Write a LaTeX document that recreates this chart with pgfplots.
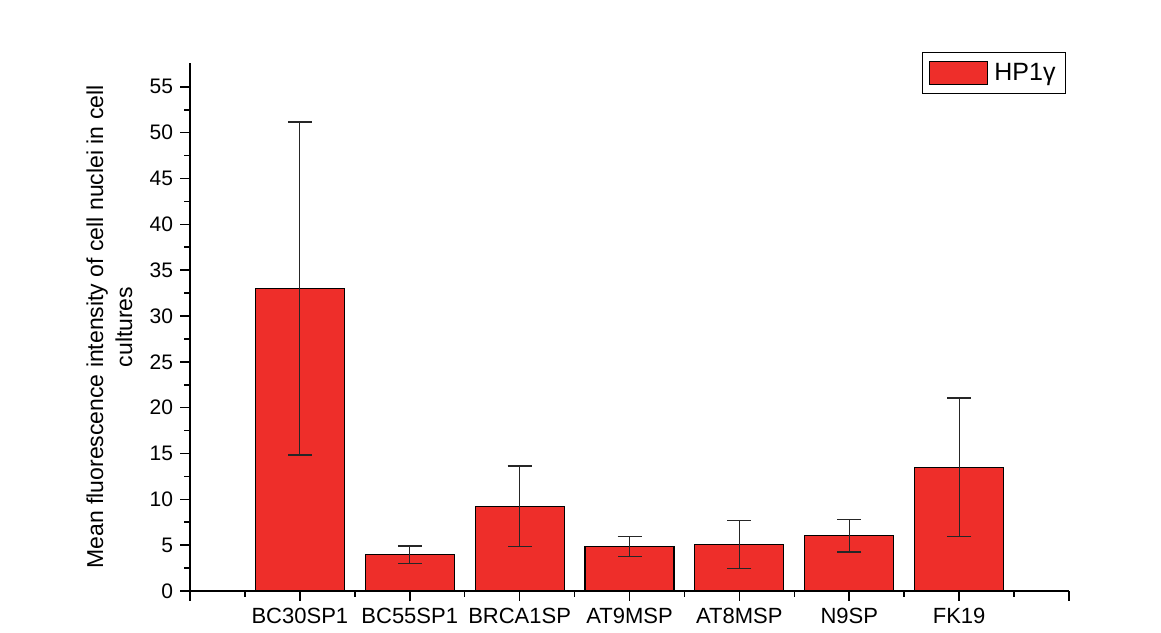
\documentclass[border=0pt]{standalone}
\usepackage{fontspec}
\setmainfont{Liberation Sans}
\usepackage{pgfplots}
\usepackage{pgfplotstable}
\pgfplotsset{compat=1.18}
\definecolor{barred}{RGB}{238,46,42}
\pgfplotstableread{
x y e
0 33.0 18.15
1 3.96 0.97
2 9.26 4.39
3 4.87 1.09
4 5.06 2.60
5 6.03 1.78
6 13.5 7.55
}\datatable
\begin{document}
\begin{tikzpicture}
\begin{axis}[
  scale only axis, width=439.5pt, height=264pt,
  xmin=-1, xmax=7, ymin=0, ymax=57.6,
  axis x line*=bottom, axis y line*=left,
  xtick={-1,0,1,2,3,4,5,6,7},
  xticklabels={,BC30SP1,BC55SP1,BRCA1SP,AT9MSP,AT8MSP,N9SP,FK19,},
  minor x tick num=1,
  ytick={0,5,...,55}, minor y tick num=1,
  tick align=outside,
  major tick length=5pt, minor tick length=3pt,
  every tick/.style={black, line width=0.8pt},
  axis line style={line width=0.9pt},
  /pgf/number format/assume math mode=true,
  yticklabel style={font=\fontsize{10.5}{12}\selectfont},
  xticklabel style={font=\fontsize{11}{13}\selectfont},
  ylabel={Mean fluorescence intensity of cell nuclei in cell\\cultures},
  ylabel style={at={(axis description cs:-0.065,0.5)}, anchor=south, rotate=0, align=center, font=\fontsize{11.5}{14.5}\selectfont, inner sep=0pt},
  legend style={at={(axis description cs:0.9966,1.02)}, anchor=north east, draw=black, line width=0.5pt, font=\fontsize{12.5}{14}\selectfont, inner xsep=3pt, inner ysep=3pt},
  legend cell align=left,
  clip=false,
]
\addplot[ybar, bar width=44.5pt, fill=barred, draw=black, line width=0.6pt,
  legend image code/.code={\draw[fill=barred,draw=black,line width=0.7pt] (0pt,-5.75pt) rectangle (29pt,5.75pt);},
  error bars/.cd, y dir=both, y explicit,
  error bar style={black!85, line width=0.5pt},
  error mark options={rotate=90, mark size=6pt, black!85, line width=0.7pt}]
  table[x=x, y=y, y error=e] {\datatable};
\addlegendentry{\hspace{1pt}HP1γ\hspace{6pt}}
\coordinate (sw) at (rel axis cs:0,0);
\coordinate (ne) at (rel axis cs:1,1);
\end{axis}
\useasboundingbox ([shift={(-95pt,-21pt)}]sw) rectangle ([shift={(46pt,31.5pt)}]ne);
\end{tikzpicture}
\end{document}
